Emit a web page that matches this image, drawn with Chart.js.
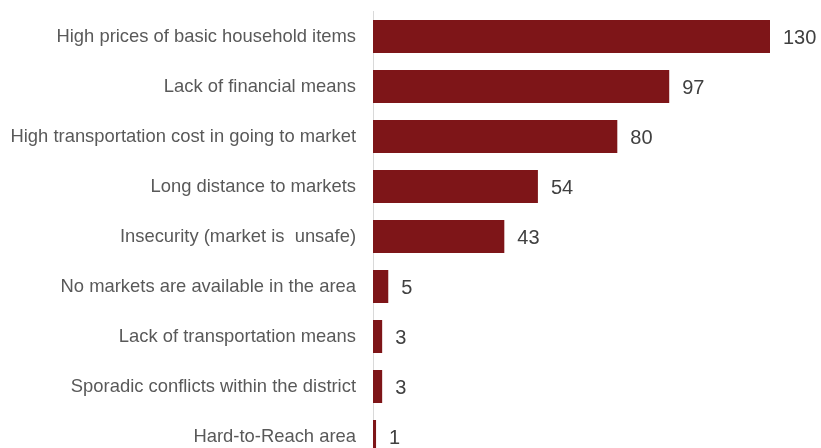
<!DOCTYPE html>
<html>
<head>
<meta charset="utf-8">
<script src="https://cdn.jsdelivr.net/npm/chart.js@4.4.1/dist/chart.umd.min.js"></script>
<style>
  html, body { margin: 0; padding: 0; background: #fff; overflow: hidden; }
  canvas { display: block; }
</style>
</head>
<body>
<canvas id="barriers" width="821" height="470"></canvas>
<script>
  // market access barriers, number of responses
  const categories = [
    'High prices of basic household items',
    'Lack of financial means',
    'High transportation cost in going to market',
    'Long distance to markets',
    'Insecurity (market is  unsafe)',
    'No markets are available in the area',
    'Lack of transportation means',
    'Sporadic conflicts within the district',
    'Hard-to-Reach area'
  ];
  const responses = [130, 97, 80, 54, 43, 5, 3, 3, 1];

  const barColor = '#7e1518';
  const fontFamily = '"Liberation Sans", Arial, sans-serif';

  // value printed to the right of each bar
  const valueLabels = {
    id: 'valueLabels',
    afterDatasetsDraw: function(chart) {
      const ctx = chart.ctx;
      const meta = chart.getDatasetMeta(0);
      ctx.save();
      ctx.font = '20px ' + fontFamily;
      ctx.fillStyle = '#404040';
      ctx.textAlign = 'left';
      ctx.textBaseline = 'middle';
      meta.data.forEach(function(bar, i) {
        ctx.fillText(String(responses[i]), bar.x + 13, bar.y + 1.5);
      });
      ctx.restore();
    }
  };

  const ctx = document.getElementById('barriers');
  const myChart = new Chart(ctx, {
    type: 'bar',
    data: {
      labels: categories,
      datasets: [{
        data: responses,
        backgroundColor: barColor,
        borderWidth: 0,
        categoryPercentage: 1,
        barPercentage: 0.66
      }]
    },
    options: {
      responsive: false,
      animation: false,
      indexAxis: 'y',
      layout: {
        padding: { top: 11.5, bottom: 8.5, left: 0, right: 51 }
      },
      plugins: {
        legend: { display: false },
        tooltip: { enabled: false }
      },
      scales: {
        x: {
          display: false,
          min: 0,
          max: 130
        },
        y: {
          afterFit: function(scale) {
            scale.width = 373;
            // labels sit at band centres, no extra room needed above/below
            scale.paddingTop = 0;
            scale.paddingBottom = 0;
          },
          grid: { display: false, drawTicks: false },
          border: { display: true, color: '#d9d9d9', width: 1 },
          ticks: {
            padding: 17,
            color: '#595959',
            font: { family: fontFamily, size: 18.4 }
          }
        }
      }
    },
    plugins: [valueLabels]
  });
</script>
</body>
</html>
